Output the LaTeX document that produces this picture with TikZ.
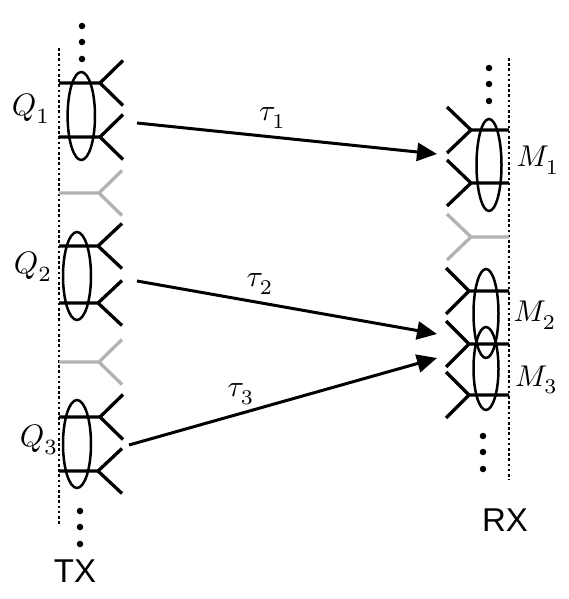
\documentclass[tikz,border=0pt]{standalone}
\usepackage{amsmath}
\usepackage{fontspec}
\setmainfont{Liberation Sans}
\usetikzlibrary{arrows.meta}
\tikzset{
  ant/.style={line width=3.3pt,black,line join=miter},
  antgray/.style={line width=3.3pt,black!30},
  ring/.style={line width=2.5pt},
  edgeline/.style={line width=2.6pt,dash pattern=on 2.6pt off 2.6pt},
  sig/.style={line width=3pt,-{Triangle[length=20pt,width=18pt]}},
  lab/.style={inner sep=0pt,anchor=center},
  mathlab/.style={lab,scale=3},
  qlab/.style={lab,scale=3.1},
  dotmark/.style={circle,fill=black,inner sep=0pt,minimum size=6.5pt}
}
\newcommand{\lowsub}[1]{_{\lower 1pt\hbox{$\scriptstyle #1$}}}
\newcommand{\antL}[4][ant]{% style, x-junction, y, tip x
  \draw[#1] (59,#3) -- (#2,#3) (#4,#3-22.5) -- (#2,#3) -- (#4,#3+22.5);}
\newcommand{\antR}[4][ant]{%
  \draw[#1] (509,#3) -- (#2,#3) (#4,#3-23) -- (#2,#3) -- (#4,#3+23);}
\begin{document}
\begin{tikzpicture}[x=1pt,y=-1pt]
\useasboundingbox (0,0) rectangle (569,599);
% array axes
\coordinate (tl) at (59,48); \coordinate (bl) at (59,525);
\coordinate (tr) at (509,58); \coordinate (br) at (509,480);
\draw[edgeline] (tl) -- (bl);
\draw[edgeline] (tr) -- (br);
% TX antennas
\antL{100}{83}{123}
\antL{100}{137}{123}
\antL[antgray]{99}{193}{122}
\antL{98}{246}{122}
\antL{98}{303}{122}
\antL[antgray]{99}{362}{122}
\antL{100}{417}{123}
\antL{98}{471}{122}
% RX antennas
\antR{471}{130}{447}
\antR{471}{183}{447}
\antR[antgray]{471}{237}{447}
\antR{469}{291}{446}
\antR{469}{344}{446}
\antR{469}{395}{446}
% groups
\draw[ring] (81.3,116) ellipse [x radius=13.7,y radius=44];
\draw[ring] (77,276) ellipse [x radius=14,y radius=44];
\draw[ring] (77,444) ellipse [x radius=14,y radius=44];
\draw[ring] (489,165) ellipse [x radius=12.5,y radius=46];
\draw[ring] (486,313.5) ellipse [x radius=12.5,y radius=44.5];
\draw[ring] (486,368.5) ellipse [x radius=12.5,y radius=41.5];
% dots
\foreach \n/\x/\y in {a/82/26,b/82/42,c/82/59,d/80/511,e/80/527,f/80/544,g/489/68,h/489/84,i/489/101,j/483/436,k/483/452,l/483/469}
  \node[dotmark] (dot\n) at (\x,\y) {};
% signal paths
\coordinate (s1) at (137,123); \coordinate (e1) at (437,154);
\coordinate (s2) at (137,281); \coordinate (e2) at (437,334);
\coordinate (s3) at (129,445); \coordinate (e3) at (437,358);
\draw[sig] (s1) -- (e1);
\draw[sig] (s2) -- (e2);
\draw[sig] (s3) -- (e3);
% labels
\node[lab,font=\fontsize{33}{33}\selectfont] (tx) at (75,571) {TX};
\node[lab,font=\fontsize{33}{33}\selectfont] (rx) at (505,520) {RX};
\node[qlab] (q1) at (31,109) {$Q\lowsub{1}$};
\node[qlab] (q2) at (33,267) {$Q\lowsub{2}$};
\node[qlab] (q3) at (39,440) {$Q\lowsub{3}$};
\node[mathlab] (m1) at (538,160) {$M\lowsub{1}$};
\node[mathlab] (m2) at (535,315) {$M\lowsub{2}$};
\node[mathlab] (m3) at (536.5,379.5) {$M\lowsub{3}$};
\node[mathlab] (t1) at (272.5,118) {$\tau\lowsub{1}$};
\node[mathlab] (t2) at (260,284) {$\tau\lowsub{2}$};
\node[mathlab] (t3) at (241,394) {$\tau\lowsub{3}$};
\end{tikzpicture}
\end{document}
